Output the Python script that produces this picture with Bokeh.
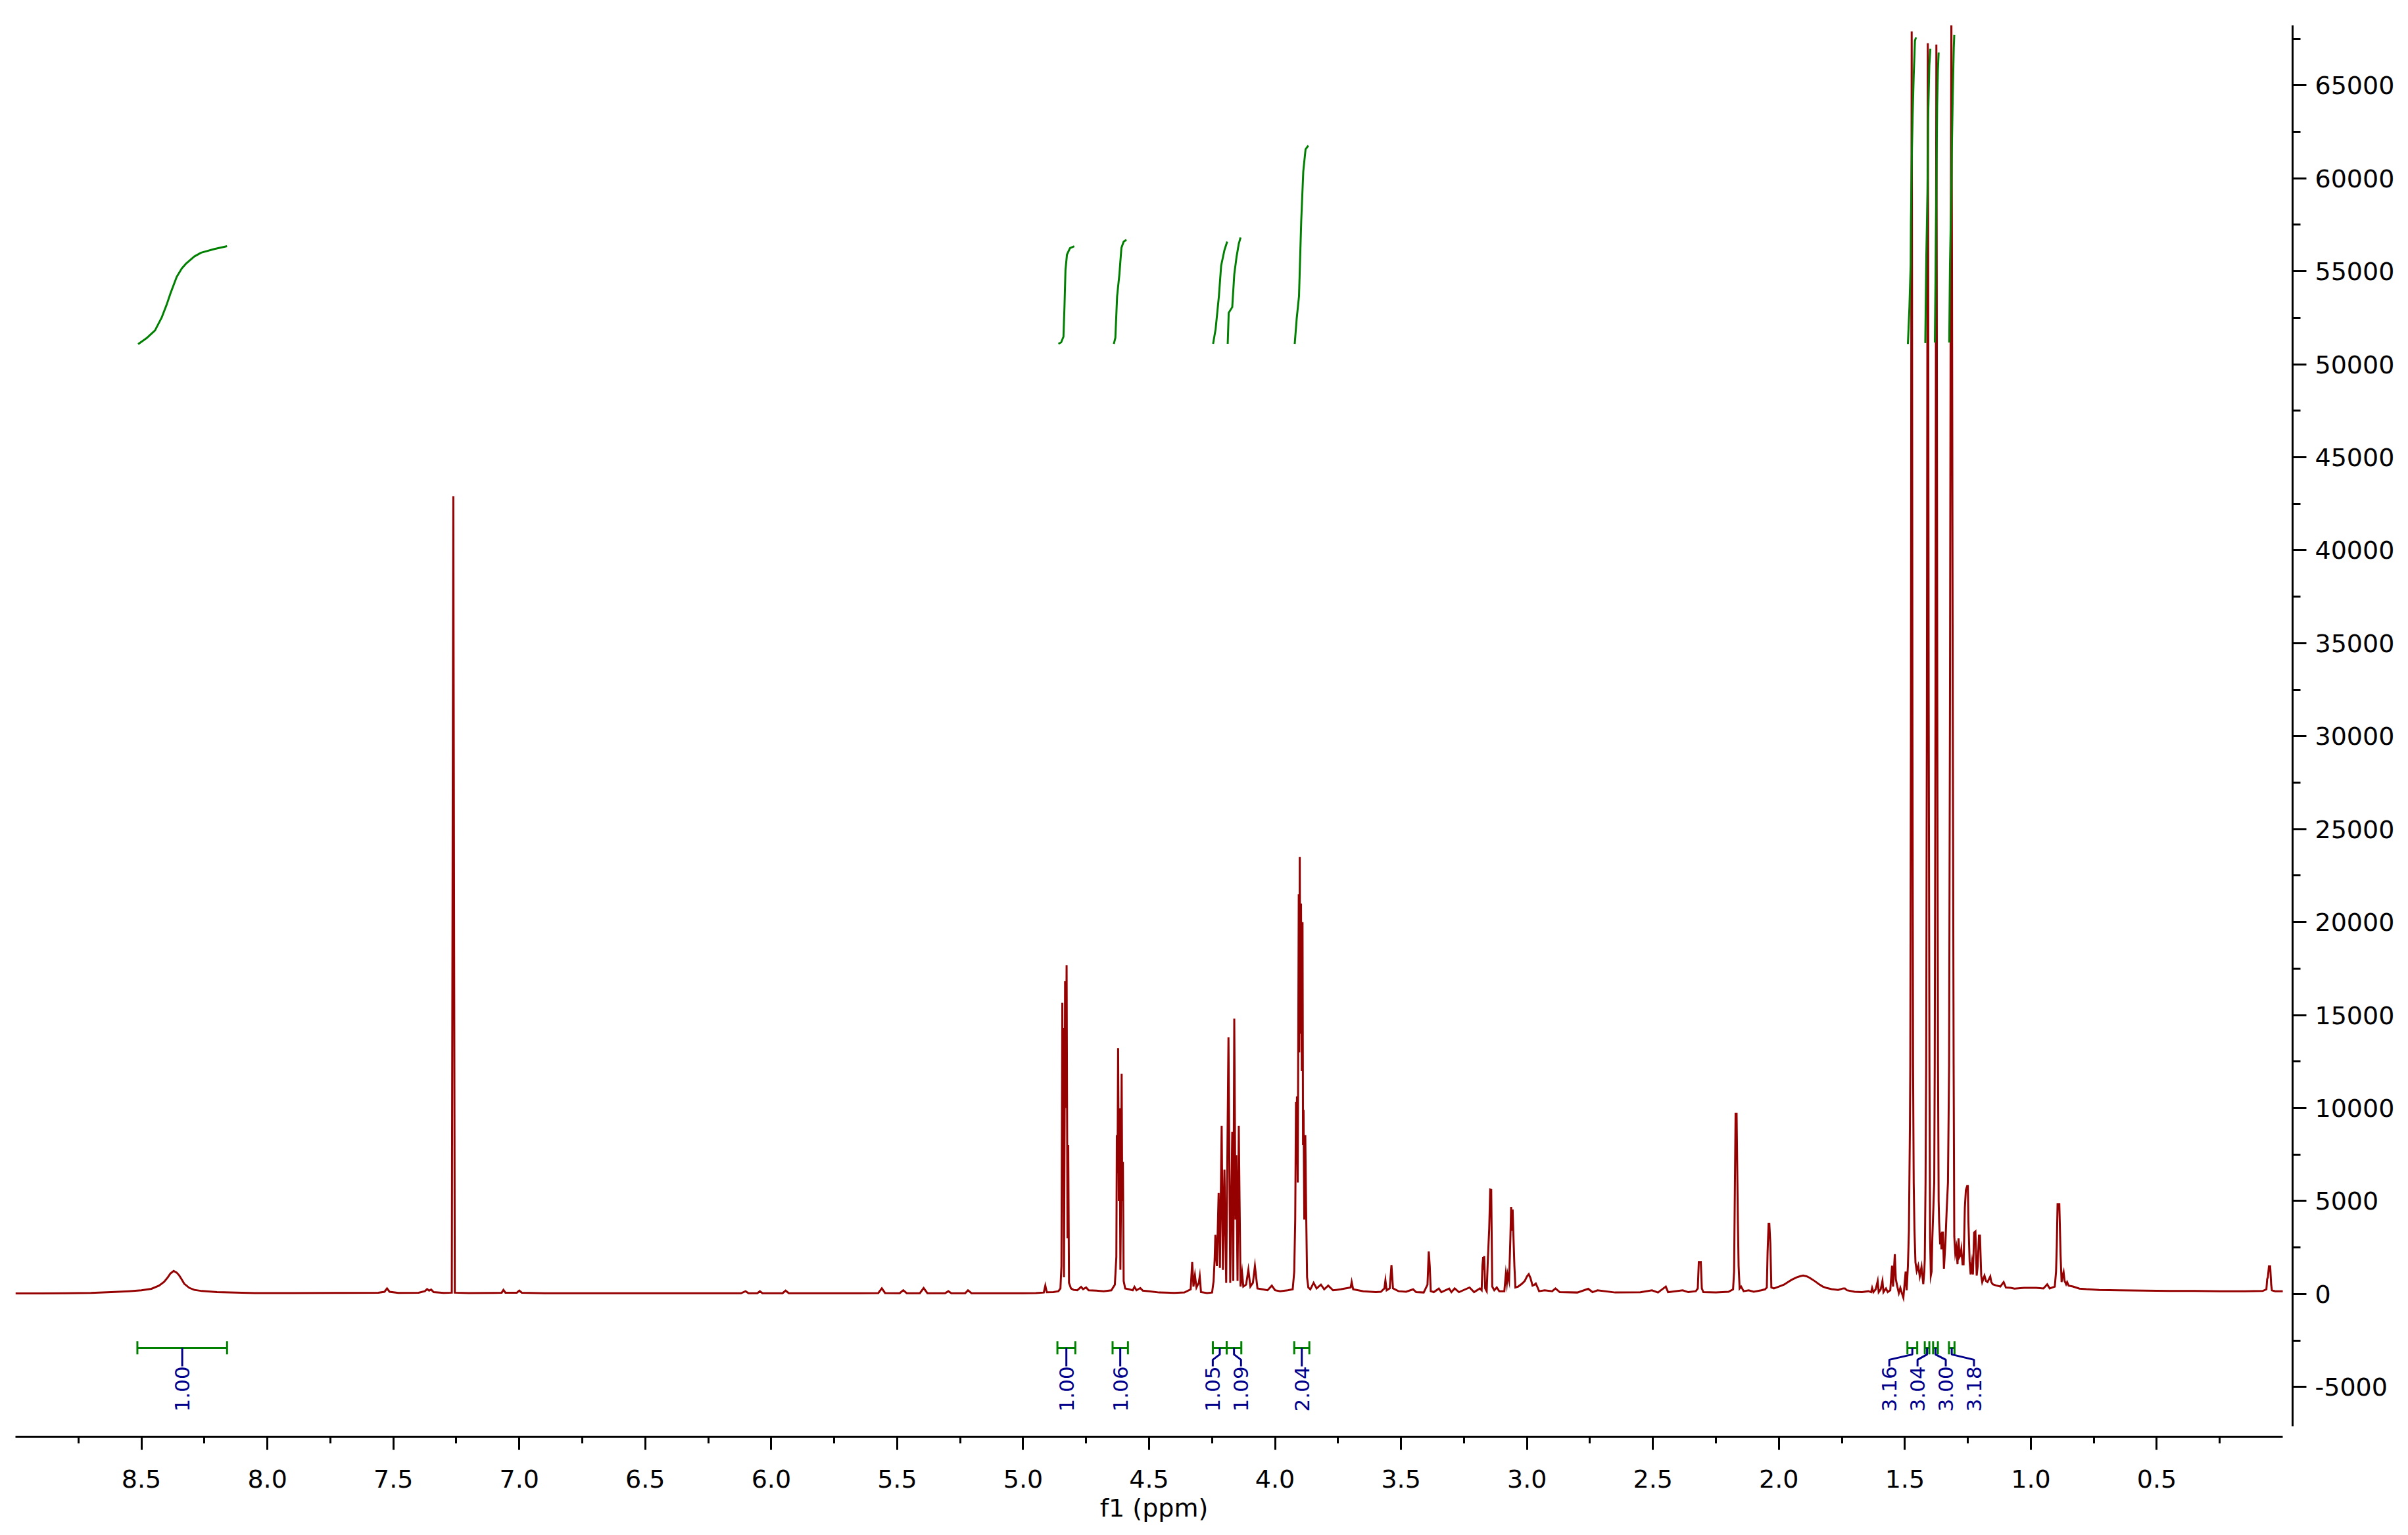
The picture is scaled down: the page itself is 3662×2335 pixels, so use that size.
import numpy as np
from bokeh.plotting import figure
from bokeh.models import Range1d, FixedTicker, PrintfTickFormatter, ColumnDataSource
from bokeh.core.properties import value
from bokeh.embed import file_html
from bokeh.resources import INLINE

# ---------------- spectrum trace: (ppm, intensity) ----------------
trace_low_field = [
    (9.00, 30), (8.90, 30), (8.80, 40), (8.70, 60), (8.62, 100), (8.55, 150), (8.50, 200),
    (8.46, 280), (8.43, 450), (8.41, 650), (8.395, 900), (8.385, 1100), (8.372, 1240),
    (8.36, 1150), (8.35, 1000), (8.34, 780), (8.33, 550), (8.31, 330), (8.29, 220),
    (8.26, 160), (8.20, 100), (8.15, 80), (8.05, 50), (7.90, 50), (7.70, 60), (7.56, 70),
    (7.535, 120), (7.525, 300), (7.515, 120), (7.48, 60), (7.40, 70), (7.375, 150),
    (7.366, 260), (7.358, 180), (7.350, 240), (7.340, 100), (7.30, 60), (7.268, 70),
    (7.262, 42900), (7.256, 70), (7.20, 50), (7.10, 60), (7.07, 70), (7.063, 220),
    (7.055, 70), (7.01, 70), (7.000, 180), (6.99, 70), (6.90, 40), (6.70, 40), (6.50, 40),
    (6.30, 40), (6.12, 40), (6.102, 150), (6.09, 40), (6.055, 40), (6.045, 150),
    (6.035, 40), (5.955, 40), (5.943, 180), (5.93, 40), (5.80, 40), (5.65, 40), (5.575, 50),
    (5.561, 300), (5.548, 50), (5.49, 40), (5.476, 200), (5.462, 40), (5.41, 40),
    (5.395, 320), (5.38, 40), (5.31, 40), (5.297, 150), (5.285, 40), (5.23, 40),
    (5.219, 200), (5.205, 40), (5.10, 40), (5.00, 40),
]

trace_mid_field = [
    (4.95, 50), (4.918, 80), (4.912, 450), (4.906, 90), (4.88, 100), (4.86, 150),
    (4.852, 300), (4.848, 1500), (4.8445, 15660), (4.8425, 8000), (4.8405, 14300),
    (4.838, 900), (4.8355, 9000), (4.8335, 16830), (4.8305, 10000), (4.8275, 17680),
    (4.824, 3000), (4.821, 8000), (4.818, 600), (4.81, 300), (4.80, 220), (4.785, 200),
    (4.77, 380), (4.762, 260), (4.75, 350), (4.74, 200), (4.71, 180), (4.68, 150),
    (4.65, 200), (4.636, 500), (4.630, 2000), (4.628, 8540), (4.6255, 6500),
    (4.623, 13230), (4.620, 5000), (4.617, 9980), (4.614, 1300), (4.611, 6000),
    (4.609, 11840), (4.6065, 5000), (4.604, 7100), (4.601, 700), (4.595, 300),
    (4.58, 250), (4.565, 200), (4.558, 380), (4.55, 200), (4.535, 320), (4.525, 180),
    (4.50, 150), (4.46, 80), (4.40, 60), (4.36, 80), (4.335, 250), (4.329, 1720),
    (4.324, 400), (4.318, 1000), (4.312, 350), (4.303, 600), (4.299, 950), (4.294, 100),
    (4.27, 50), (4.25, 80), (4.244, 700), (4.240, 1800), (4.237, 3180), (4.231, 1500),
    (4.224, 5430), (4.219, 1400), (4.212, 9040), (4.207, 1300), (4.201, 6690),
    (4.194, 600), (4.185, 13800), (4.178, 600), (4.170, 8720), (4.166, 700),
    (4.162, 14810), (4.157, 4000), (4.154, 7460), (4.149, 700), (4.144, 9040),
    (4.141, 5100), (4.137, 400), (4.131, 1140), (4.126, 400), (4.115, 500),
    (4.106, 1300), (4.098, 400), (4.088, 600), (4.080, 1500), (4.070, 300), (4.05, 250),
    (4.03, 200), (4.013, 450), (4.00, 200), (3.98, 150), (3.95, 200), (3.93, 250),
    (3.924, 1200), (3.920, 4000), (3.917, 10340), (3.915, 7000), (3.913, 10630),
    (3.910, 6000), (3.906, 21500), (3.904, 13000), (3.902, 23500), (3.900, 14000),
    (3.897, 21000), (3.894, 12000), (3.891, 20000), (3.889, 8000), (3.887, 9900),
    (3.884, 4000), (3.880, 8540), (3.877, 4810), (3.873, 900), (3.868, 350), (3.86, 250),
    (3.847, 600), (3.835, 300), (3.818, 500), (3.805, 250), (3.789, 450), (3.77, 200),
    (3.74, 250), (3.70, 350), (3.696, 650), (3.69, 250), (3.65, 150), (3.60, 100),
]

trace_high_field = [
    (3.58, 120), (3.566, 300), (3.562, 730), (3.557, 200), (3.545, 300), (3.538, 1555),
    (3.532, 300), (3.51, 150), (3.48, 120), (3.452, 250), (3.44, 100), (3.41, 80),
    (3.395, 500), (3.390, 2290), (3.386, 1500), (3.382, 150), (3.37, 100), (3.350, 290),
    (3.34, 100), (3.309, 290), (3.30, 100), (3.287, 300), (3.27, 100), (3.228, 350),
    (3.21, 100), (3.187, 300), (3.180, 200), (3.177, 1500), (3.174, 1990), (3.172, 1300),
    (3.170, 2040), (3.166, 300), (3.160, 150), (3.155, 1990), (3.150, 3500),
    (3.146, 5620), (3.142, 5600), (3.138, 400), (3.13, 200), (3.12, 350), (3.11, 150),
    (3.09, 150), (3.084, 1070), (3.080, 600), (3.077, 1070), (3.071, 700), (3.066, 3000),
    (3.063, 4680), (3.060, 3400), (3.057, 4550), (3.054, 3200), (3.050, 1500),
    (3.046, 350), (3.035, 400), (3.02, 550), (3.009, 700), (3.000, 950), (2.993, 1070),
    (2.986, 850), (2.978, 450), (2.970, 500), (2.965, 560), (2.958, 350), (2.952, 150),
    (2.93, 200), (2.90, 150), (2.887, 300), (2.87, 100), (2.80, 80), (2.757, 280),
    (2.74, 100), (2.72, 200), (2.65, 80), (2.55, 90), (2.504, 200), (2.48, 80),
    (2.449, 400), (2.44, 100), (2.382, 200), (2.36, 100), (2.33, 150), (2.322, 300),
    (2.318, 1720), (2.310, 1720), (2.306, 300), (2.30, 100), (2.25, 80), (2.20, 120),
    (2.182, 250), (2.178, 1200), (2.172, 9690), (2.168, 9690), (2.163, 4000),
    (2.160, 1500), (2.156, 300), (2.150, 400), (2.14, 150), (2.12, 200), (2.10, 120),
    (2.07, 200), (2.055, 250), (2.048, 350), (2.045, 2240), (2.041, 3780), (2.038, 3780),
    (2.034, 2700), (2.030, 350), (2.02, 300), (2.00, 400), (1.98, 500), (1.965, 636),
    (1.95, 760), (1.93, 895), (1.915, 960), (1.904, 990), (1.89, 950), (1.878, 870),
    (1.865, 760), (1.852, 636), (1.84, 520), (1.826, 400), (1.81, 320), (1.791, 260),
    (1.765, 220), (1.745, 300), (1.738, 300), (1.73, 200), (1.70, 120), (1.67, 100),
    (1.645, 150), (1.634, 100), (1.630, 330), (1.625, 100), (1.616, 250), (1.608, 700),
    (1.604, 100), (1.596, 250), (1.589, 700), (1.585, 100), (1.575, 300), (1.568, 100),
    (1.558, 200), (1.551, 1520), (1.547, 400), (1.540, 2140), (1.536, 800),
    (1.530, 400), (1.524, 50), (1.518, 330), (1.512, 50), (1.506, -200), (1.497, 1200),
    (1.493, 200), (1.488, 1500),
]

trace_methyl = [
    (1.484, 3400), (1.480, 9000), (1.4785, 12300), (1.476, 30000), (1.4743, 55000),
    (1.473, 67900), (1.4717, 55000), (1.470, 30000), (1.4675, 12300), (1.465, 6000),
    (1.462, 3460), (1.458, 1700), (1.453, 1240), (1.447, 1520), (1.441, 950),
    (1.434, 1460), (1.427, 530), (1.423, 1200), (1.421, 1880), (1.418, 6000),
    (1.4155, 12300), (1.4125, 32000), (1.4105, 55000), (1.409, 67270), (1.4075, 55000),
    (1.4055, 32000), (1.4025, 12300), (1.400, 3000), (1.397, 990), (1.394, 1200),
    (1.391, 3000), (1.3835, 6000), (1.3815, 12300), (1.3785, 32000), (1.3765, 55000),
    (1.375, 67200), (1.3735, 55000), (1.3715, 32000), (1.3685, 12300), (1.366, 5000),
    (1.364, 3880), (1.360, 2670), (1.357, 3300), (1.355, 2400), (1.352, 3300),
    (1.349, 3300), (1.345, 1360), (1.339, 2800), (1.334, 4550), (1.329, 6000),
    (1.3245, 12300), (1.321, 32000), (1.318, 55000), (1.3155, 69000), (1.313, 55000),
    (1.310, 32000), (1.3065, 12300), (1.304, 3100), (1.300, 2200), (1.296, 2500),
    (1.291, 1600), (1.287, 3000), (1.283, 2000), (1.279, 2100), (1.276, 2400),
    (1.271, 1600), (1.267, 1600), (1.262, 4640), (1.258, 5580), (1.253, 5800),
    (1.250, 5800), (1.248, 4000), (1.243, 1750), (1.239, 1050), (1.234, 1650),
    (1.230, 1050), (1.225, 3300), (1.220, 3360), (1.215, 990), (1.211, 1500),
    (1.206, 3140), (1.202, 3140), (1.197, 990), (1.193, 640), (1.184, 990), (1.178, 700),
    (1.172, 640), (1.161, 940), (1.157, 640), (1.151, 520), (1.138, 460), (1.121, 400),
    (1.108, 640), (1.099, 350), (1.08, 330), (1.065, 290), (1.027, 330), (0.979, 330),
    (0.95, 300), (0.935, 520), (0.925, 300), (0.905, 400), (0.900, 1200), (0.897, 2600),
    (0.894, 4830), (0.887, 4830), (0.885, 3770), (0.882, 2120), (0.878, 640),
    (0.874, 990), (0.870, 1180), (0.866, 700), (0.860, 520), (0.856, 640), (0.850, 450),
    (0.833, 400), (0.807, 290), (0.78, 260), (0.729, 220), (0.65, 200), (0.55, 180),
    (0.45, 160), (0.35, 160), (0.25, 150), (0.15, 150), (0.08, 160), (0.065, 250),
    (0.062, 800), (0.059, 900), (0.055, 1490), (0.050, 1490), (0.046, 500),
    (0.043, 200), (0.03, 150), (0.00, 150),
]

# ---------------- integrals ----------------
int_start = [8.516, 4.864, 4.645, 4.247, 4.192, 3.924, 1.490, 1.421, 1.388, 1.325]
int_end = [8.160, 4.793, 4.584, 4.192, 4.134, 3.864, 1.451, 1.403, 1.369, 1.303]
int_values = ["1.00", "1.00", "1.06", "1.05", "1.09", "2.04", "3.16", "3.04", "3.00", "3.18"]

integral_curves = [
    [(8.513, 51080), (8.48, 51400), (8.446, 51820), (8.42, 52500), (8.40, 53200),
     (8.385, 53800), (8.36, 54700), (8.34, 55150), (8.324, 55400), (8.29, 55800),
     (8.263, 56000), (8.21, 56200), (8.16, 56350)],
    [(4.860, 51100), (4.849, 51180), (4.840, 51480), (4.836, 53070), (4.832, 55070),
     (4.826, 55900), (4.814, 56250), (4.797, 56350)],
    [(4.640, 51100), (4.634, 51420), (4.627, 53660), (4.618, 54830), (4.610, 56250),
     (4.601, 56600), (4.590, 56690)],
    [(4.246, 51100), (4.236, 51890), (4.223, 53660), (4.214, 55310), (4.201, 56140),
     (4.190, 56600)],
    [(4.188, 51100), (4.184, 52770), (4.170, 53070), (4.162, 54830), (4.153, 55770),
     (4.144, 56480), (4.137, 56820)],
    [(3.922, 51100), (3.914, 52480), (3.905, 53660), (3.896, 57780), (3.888, 60380),
     (3.879, 61560), (3.868, 61760)],
    [(1.488, 51090), (1.482, 53060), (1.477, 55360), (1.476, 57660), (1.472, 61580),
     (1.469, 63480), (1.465, 65510), (1.460, 67400), (1.456, 67580)],
    [(1.419, 51140), (1.415, 55770), (1.410, 59290), (1.408, 63080), (1.403, 66050),
     (1.399, 66970)],
    [(1.381, 51170), (1.378, 55030), (1.375, 59560), (1.372, 63890), (1.369, 65780),
     (1.366, 66770)],
    [(1.324, 51170), (1.321, 55300), (1.317, 58270), (1.314, 61250), (1.310, 64430),
     (1.306, 67000), (1.304, 67720)],
]

# ---------------- axis ticks ----------------
x_major_ticks = [0.5 * k for k in range(1, 18)]           # 0.5 ... 8.5
x_minor_ticks = [0.25 + 0.5 * k for k in range(0, 18)]    # 0.25 ... 8.75
y_major_ticks = [5000 * k for k in range(-1, 14)]         # -5000 ... 65000
y_minor_ticks = [2500 + 5000 * k for k in range(-1, 14)]  # -2500 ... 67500

# ---------------- styles ----------------
RED = "#950000"
GREEN = "#008000"
NAVY = "#00008B"
AXFONT = "DejaVu Sans"

# y levels (intensity units) for the bracket / label block under the spectrum
BR_TOP, BR_MID, BR_BOT = -2545, -2899, -3252
KNEE2, LABEL_TOP = -3535, -3889
LABEL_GAP = 0.112   # minimum spacing between integral labels (ppm)

W, H = 3662, 2335
p = figure(width=W, height=H,
           x_range=Range1d(9.0, -0.039), y_range=Range1d(-7676, 68230),
           output_backend="svg", toolbar_location=None,
           y_axis_location="right", x_axis_location="below",
           min_border_left=23, min_border_top=38, min_border_right=W - 3486,
           min_border_bottom=H - 2185, outline_line_color=None,
           background_fill_color="white", border_fill_color="white")
p.grid.visible = False

# spectrum
trace = trace_low_field + trace_mid_field + trace_high_field + trace_methyl
p.line([t[0] for t in trace], [t[1] for t in trace], line_color=RED, line_width=3,
       line_join="miter")

# integral curves
p.multi_line([[q[0] for q in c] for c in integral_curves],
             [[q[1] for q in c] for c in integral_curves],
             line_color=GREEN, line_width=3)

# integration brackets
n = len(int_start)
hx, hy = [], []
for s, e in zip(int_start, int_end):
    hx += [[s, e], [s, s], [e, e]]
    hy += [[BR_MID, BR_MID], [BR_TOP, BR_BOT], [BR_TOP, BR_BOT]]
p.multi_line(hx, hy, line_color=GREEN, line_width=3)

# label placement: spread crowded labels evenly around their group's mean
centers = [(s + e) / 2 for s, e in zip(int_start, int_end)]
groups, cur = [], [0]
for i in range(1, n):
    if centers[cur[-1]] - centers[i] < LABEL_GAP:
        cur.append(i)
    else:
        groups.append(cur)
        cur = [i]
groups.append(cur)
label_x = [0.0] * n
for g in groups:
    m = float(np.mean([centers[i] for i in g]))
    k = len(g)
    for j, i in enumerate(g):
        label_x[i] = m + (k - 1) / 2 * LABEL_GAP - j * LABEL_GAP

cx, cy = [], []
for c, lx in zip(centers, label_x):
    if abs(c - lx) < 1e-9:
        cx.append([c, c])
        cy.append([BR_MID, LABEL_TOP])
    else:
        cx.append([c, c, lx, lx])
        cy.append([BR_MID, BR_BOT, KNEE2, LABEL_TOP])
p.multi_line(cx, cy, line_color=NAVY, line_width=3)

src = ColumnDataSource(dict(x=label_x, y=[LABEL_TOP] * n, t=int_values))
p.text(x="x", y="y", text="t", source=src, angle=np.pi / 2,
       text_align="right", text_baseline="middle", text_color=NAVY,
       text_font=value("DejaVu Sans"), text_font_size=value("31px"))

# axes
xa = p.xaxis[0]
xa.ticker = FixedTicker(ticks=x_major_ticks, minor_ticks=x_minor_ticks)
xa.formatter = PrintfTickFormatter(format="%.1f")
xa.bounds = (0.0, 9.0)
xa.axis_label = "f1 (ppm)"
xa.axis_label_text_font = AXFONT
xa.axis_label_text_font_style = "normal"
xa.axis_label_text_font_size = "38px"
xa.axis_label_standoff = 6
xa.major_label_text_font = AXFONT
xa.major_label_text_font_size = "38px"
xa.major_label_standoff = 30
xa.major_tick_out = 20
xa.major_tick_in = 0
xa.minor_tick_out = 10
xa.minor_tick_in = 0

ya = p.yaxis[0]
ya.ticker = FixedTicker(ticks=y_major_ticks, minor_ticks=y_minor_ticks)
ya.formatter = PrintfTickFormatter(format="%d")
ya.bounds = (-7100, 68230)
ya.major_label_text_font = AXFONT
ya.major_label_text_font_size = "38px"
ya.major_label_standoff = 13
ya.major_tick_out = 21
ya.major_tick_in = 0
ya.minor_tick_out = 12
ya.minor_tick_in = 0

for ax in (xa, ya):
    ax.axis_line_width = 3
    ax.axis_line_color = "black"
    ax.major_tick_line_width = 3
    ax.minor_tick_line_width = 3
    ax.major_tick_line_color = "black"
    ax.minor_tick_line_color = "black"
    ax.major_label_text_color = "black"
    ax.axis_label_text_color = "black"

open("out.html", "w").write(file_html(p, INLINE))
